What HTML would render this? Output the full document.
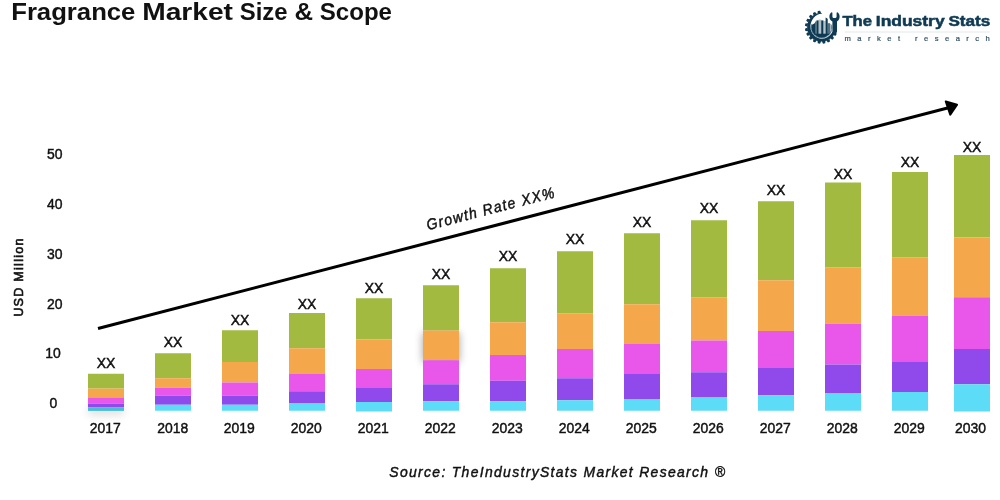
<!DOCTYPE html>
<html lang="en"><head><meta charset="utf-8"><title>Fragrance Market Size &amp; Scope</title>
<style>
html,body{margin:0;padding:0;background:#fff;}
body{width:1000px;height:500px;overflow:hidden;position:relative;font-family:"Liberation Sans",Arial,Helvetica,sans-serif;}
svg{position:absolute;left:0;top:0;display:block;}
text{font-family:"Liberation Sans",Arial,Helvetica,sans-serif;}
</style></head><body>
<svg width="1000" height="500" viewBox="0 0 1000 500">
<defs>
<filter id="sh" x="-60%" y="-60%" width="220%" height="220%"><feGaussianBlur in="SourceAlpha" stdDeviation="4"/><feComponentTransfer><feFuncA type="linear" slope="0.38"/></feComponentTransfer></filter>
<filter id="sh2" x="-60%" y="-300%" width="220%" height="700%"><feGaussianBlur in="SourceAlpha" stdDeviation="4"/><feComponentTransfer><feFuncA type="linear" slope="0.13"/></feComponentTransfer></filter>
<clipPath id="disc"><circle cx="821.7" cy="27.15" r="10.5"/></clipPath>
</defs>

<text id="title" y="20" font-size="24.8" font-weight="700" fill="#111"><tspan x="11.2" textLength="124.2" lengthAdjust="spacingAndGlyphs">Fragrance</tspan> <tspan x="142.2" textLength="90.8" lengthAdjust="spacingAndGlyphs">Market</tspan> <tspan x="239.8" textLength="47.8" lengthAdjust="spacingAndGlyphs">Size</tspan> <tspan x="294.4" textLength="18.6" lengthAdjust="spacingAndGlyphs">&amp;</tspan> <tspan x="319.8" textLength="72.2" lengthAdjust="spacingAndGlyphs">Scope</tspan> </text>
<text transform="translate(54.85,159.20) scale(0.912,1)" font-size="15.3" text-anchor="middle" fill="#111" stroke="#111" stroke-width="0.45" >50</text>
<text transform="translate(54.85,208.98) scale(0.912,1)" font-size="15.3" text-anchor="middle" fill="#111" stroke="#111" stroke-width="0.45" >40</text>
<text transform="translate(54.85,258.76) scale(0.912,1)" font-size="15.3" text-anchor="middle" fill="#111" stroke="#111" stroke-width="0.45" >30</text>
<text transform="translate(54.85,308.54) scale(0.912,1)" font-size="15.3" text-anchor="middle" fill="#111" stroke="#111" stroke-width="0.45" >20</text>
<text transform="translate(53.00,358.32) scale(0.912,1)" font-size="15.3" text-anchor="middle" fill="#111" stroke="#111" stroke-width="0.45" >10</text>
<text transform="translate(53.35,408.10) scale(0.912,1)" font-size="15.3" text-anchor="middle" fill="#111" stroke="#111" stroke-width="0.45" >0</text>
<text id="ylab" transform="translate(22.6,277) rotate(-90)" font-size="12.6" text-anchor="middle" fill="#111" stroke="#111" stroke-width="0.62" letter-spacing="1.25">USD Million</text>
<rect x="423" y="332.5" width="36" height="29.75" fill="#000" filter="url(#sh)"/>
<rect x="88" y="406" width="36" height="9" fill="#000" filter="url(#sh2)"/>
<rect x="88" y="373.75" width="36" height="14.85" fill="#a3ba40"/>
<rect x="88" y="388.6" width="36" height="8.80" fill="#f4a74b"/>
<rect x="88" y="397.4" width="36" height="6.40" fill="#e856ea"/>
<rect x="88" y="403.8" width="36" height="3.60" fill="#9049ea"/>
<rect x="88" y="407.4" width="36" height="3.50" fill="#4abcd3"/>
<text transform="translate(105.95,368.20) scale(0.912,1)" font-size="15.3" text-anchor="middle" fill="#111" stroke="#111" stroke-width="0.45" >XX</text>
<text transform="translate(105.20,432.60) scale(0.912,1)" font-size="15.3" text-anchor="middle" fill="#111" stroke="#111" stroke-width="0.45" >2017</text>
<rect x="155" y="353.25" width="36" height="25.00" fill="#a3ba40"/>
<rect x="155" y="378.25" width="36" height="9.50" fill="#f4a74b"/>
<rect x="155" y="387.75" width="36" height="8.00" fill="#e856ea"/>
<rect x="155" y="395.75" width="36" height="9.00" fill="#9049ea"/>
<rect x="155" y="404.75" width="36" height="6.00" fill="#5ddcf8"/>
<text transform="translate(172.95,347.20) scale(0.912,1)" font-size="15.3" text-anchor="middle" fill="#111" stroke="#111" stroke-width="0.45" >XX</text>
<text transform="translate(172.70,432.60) scale(0.912,1)" font-size="15.3" text-anchor="middle" fill="#111" stroke="#111" stroke-width="0.45" >2018</text>
<rect x="222" y="330.25" width="36" height="31.75" fill="#a3ba40"/>
<rect x="222" y="362" width="36" height="20.50" fill="#f4a74b"/>
<rect x="222" y="382.5" width="36" height="13.25" fill="#e856ea"/>
<rect x="222" y="395.75" width="36" height="9.00" fill="#9049ea"/>
<rect x="222" y="404.75" width="36" height="6.00" fill="#5ddcf8"/>
<text transform="translate(239.95,325.40) scale(0.912,1)" font-size="15.3" text-anchor="middle" fill="#111" stroke="#111" stroke-width="0.45" >XX</text>
<text transform="translate(239.20,432.60) scale(0.912,1)" font-size="15.3" text-anchor="middle" fill="#111" stroke="#111" stroke-width="0.45" >2019</text>
<rect x="289" y="313" width="36" height="35.25" fill="#a3ba40"/>
<rect x="289" y="348.25" width="36" height="25.75" fill="#f4a74b"/>
<rect x="289" y="374" width="36" height="17.25" fill="#e856ea"/>
<rect x="289" y="391.25" width="36" height="11.75" fill="#9049ea"/>
<rect x="289" y="403" width="36" height="7.75" fill="#5ddcf8"/>
<text transform="translate(306.95,309.40) scale(0.912,1)" font-size="15.3" text-anchor="middle" fill="#111" stroke="#111" stroke-width="0.45" >XX</text>
<text transform="translate(306.20,432.60) scale(0.912,1)" font-size="15.3" text-anchor="middle" fill="#111" stroke="#111" stroke-width="0.45" >2020</text>
<rect x="356" y="298.25" width="36" height="41.25" fill="#a3ba40"/>
<rect x="356" y="339.5" width="36" height="29.50" fill="#f4a74b"/>
<rect x="356" y="369" width="36" height="19.00" fill="#e856ea"/>
<rect x="356" y="388" width="36" height="14.00" fill="#9049ea"/>
<rect x="356" y="402" width="36" height="9.50" fill="#5ddcf8"/>
<text transform="translate(373.95,292.80) scale(0.912,1)" font-size="15.3" text-anchor="middle" fill="#111" stroke="#111" stroke-width="0.45" >XX</text>
<text transform="translate(373.20,432.60) scale(0.912,1)" font-size="15.3" text-anchor="middle" fill="#111" stroke="#111" stroke-width="0.45" >2021</text>
<rect x="423" y="285.25" width="36" height="45.25" fill="#a3ba40"/>
<rect x="423" y="330.5" width="36" height="29.75" fill="#f4a74b"/>
<rect x="423" y="360.25" width="36" height="24.00" fill="#e856ea"/>
<rect x="423" y="384.25" width="36" height="17.00" fill="#9049ea"/>
<rect x="423" y="401.25" width="36" height="9.50" fill="#5ddcf8"/>
<text transform="translate(440.95,279.00) scale(0.912,1)" font-size="15.3" text-anchor="middle" fill="#111" stroke="#111" stroke-width="0.45" >XX</text>
<text transform="translate(440.20,432.60) scale(0.912,1)" font-size="15.3" text-anchor="middle" fill="#111" stroke="#111" stroke-width="0.45" >2022</text>
<rect x="490" y="268.25" width="36" height="54.00" fill="#a3ba40"/>
<rect x="490" y="322.25" width="36" height="32.75" fill="#f4a74b"/>
<rect x="490" y="355" width="36" height="25.75" fill="#e856ea"/>
<rect x="490" y="380.75" width="36" height="20.50" fill="#9049ea"/>
<rect x="490" y="401.25" width="36" height="9.50" fill="#5ddcf8"/>
<text transform="translate(507.95,261.05) scale(0.912,1)" font-size="15.3" text-anchor="middle" fill="#111" stroke="#111" stroke-width="0.45" >XX</text>
<text transform="translate(507.20,432.60) scale(0.912,1)" font-size="15.3" text-anchor="middle" fill="#111" stroke="#111" stroke-width="0.45" >2023</text>
<rect x="557" y="251.25" width="36" height="62.00" fill="#a3ba40"/>
<rect x="557" y="313.25" width="36" height="35.75" fill="#f4a74b"/>
<rect x="557" y="349" width="36" height="29.25" fill="#e856ea"/>
<rect x="557" y="378.25" width="36" height="22.00" fill="#9049ea"/>
<rect x="557" y="400.25" width="36" height="10.50" fill="#5ddcf8"/>
<text transform="translate(574.95,244.00) scale(0.912,1)" font-size="15.3" text-anchor="middle" fill="#111" stroke="#111" stroke-width="0.45" >XX</text>
<text transform="translate(574.20,432.60) scale(0.912,1)" font-size="15.3" text-anchor="middle" fill="#111" stroke="#111" stroke-width="0.45" >2024</text>
<rect x="624" y="233.25" width="36" height="71.00" fill="#a3ba40"/>
<rect x="624" y="304.25" width="36" height="39.75" fill="#f4a74b"/>
<rect x="624" y="344" width="36" height="30.00" fill="#e856ea"/>
<rect x="624" y="374" width="36" height="25.00" fill="#9049ea"/>
<rect x="624" y="399" width="36" height="11.75" fill="#5ddcf8"/>
<text transform="translate(641.95,226.80) scale(0.912,1)" font-size="15.3" text-anchor="middle" fill="#111" stroke="#111" stroke-width="0.45" >XX</text>
<text transform="translate(641.20,432.60) scale(0.912,1)" font-size="15.3" text-anchor="middle" fill="#111" stroke="#111" stroke-width="0.45" >2025</text>
<rect x="691" y="220.25" width="36" height="77.00" fill="#a3ba40"/>
<rect x="691" y="297.25" width="36" height="43.25" fill="#f4a74b"/>
<rect x="691" y="340.5" width="36" height="31.75" fill="#e856ea"/>
<rect x="691" y="372.25" width="36" height="24.75" fill="#9049ea"/>
<rect x="691" y="397" width="36" height="13.75" fill="#5ddcf8"/>
<text transform="translate(708.95,213.00) scale(0.912,1)" font-size="15.3" text-anchor="middle" fill="#111" stroke="#111" stroke-width="0.45" >XX</text>
<text transform="translate(708.20,432.60) scale(0.912,1)" font-size="15.3" text-anchor="middle" fill="#111" stroke="#111" stroke-width="0.45" >2026</text>
<rect x="758" y="201.25" width="36" height="79.00" fill="#a3ba40"/>
<rect x="758" y="280.25" width="36" height="50.75" fill="#f4a74b"/>
<rect x="758" y="331" width="36" height="37.00" fill="#e856ea"/>
<rect x="758" y="368" width="36" height="27.25" fill="#9049ea"/>
<rect x="758" y="395.25" width="36" height="15.50" fill="#5ddcf8"/>
<text transform="translate(775.95,195.00) scale(0.912,1)" font-size="15.3" text-anchor="middle" fill="#111" stroke="#111" stroke-width="0.45" >XX</text>
<text transform="translate(775.20,432.60) scale(0.912,1)" font-size="15.3" text-anchor="middle" fill="#111" stroke="#111" stroke-width="0.45" >2027</text>
<rect x="825" y="182.5" width="36" height="84.75" fill="#a3ba40"/>
<rect x="825" y="267.25" width="36" height="56.50" fill="#f4a74b"/>
<rect x="825" y="323.75" width="36" height="40.75" fill="#e856ea"/>
<rect x="825" y="364.5" width="36" height="28.50" fill="#9049ea"/>
<rect x="825" y="393" width="36" height="17.75" fill="#5ddcf8"/>
<text transform="translate(842.95,179.00) scale(0.912,1)" font-size="15.3" text-anchor="middle" fill="#111" stroke="#111" stroke-width="0.45" >XX</text>
<text transform="translate(842.20,432.60) scale(0.912,1)" font-size="15.3" text-anchor="middle" fill="#111" stroke="#111" stroke-width="0.45" >2028</text>
<rect x="892" y="172" width="36" height="85.25" fill="#a3ba40"/>
<rect x="892" y="257.25" width="36" height="58.25" fill="#f4a74b"/>
<rect x="892" y="315.5" width="36" height="46.50" fill="#e856ea"/>
<rect x="892" y="362" width="36" height="30.00" fill="#9049ea"/>
<rect x="892" y="392" width="36" height="18.75" fill="#5ddcf8"/>
<text transform="translate(909.95,166.60) scale(0.912,1)" font-size="15.3" text-anchor="middle" fill="#111" stroke="#111" stroke-width="0.45" >XX</text>
<text transform="translate(909.20,432.60) scale(0.912,1)" font-size="15.3" text-anchor="middle" fill="#111" stroke="#111" stroke-width="0.45" >2029</text>
<rect x="954" y="155" width="36" height="82.50" fill="#a3ba40"/>
<rect x="954" y="237.5" width="36" height="59.75" fill="#f4a74b"/>
<rect x="954" y="297.25" width="36" height="51.75" fill="#e856ea"/>
<rect x="954" y="349" width="36" height="35.25" fill="#9049ea"/>
<rect x="954" y="384.25" width="36" height="27.25" fill="#5ddcf8"/>
<text transform="translate(971.95,152.20) scale(0.912,1)" font-size="15.3" text-anchor="middle" fill="#111" stroke="#111" stroke-width="0.45" >XX</text>
<text transform="translate(970.40,432.60) scale(0.912,1)" font-size="15.3" text-anchor="middle" fill="#111" stroke="#111" stroke-width="0.45" >2030</text>
<line x1="98" y1="328.5" x2="948.50" y2="107.80" stroke="#000" stroke-width="3"/>
<polygon points="945.75,101.4 957.05,104.8 950.25,114.7" fill="#000" stroke="#000" stroke-width="2" stroke-linejoin="round"/>
<text id="growth" transform="translate(492.2,213.6) rotate(-14.55) scale(0.912,1)" font-size="15.3" font-style="italic" text-anchor="middle" fill="#111" stroke="#111" stroke-width="0.45" letter-spacing="1.43">Growth Rate XX%</text>
<text id="source" transform="translate(389.3,476.6) scale(0.912,1)" font-size="15.3" font-style="italic" fill="#111" stroke="#111" stroke-width="0.45" letter-spacing="1.45">Source: TheIndustryStats Market Research ®</text>
<g id="logo">
<text id="logot" y="26.25" font-size="15.5" font-weight="700" fill="#0e3a53" stroke="#0e3a53" stroke-width="0.55"><tspan x="842.4" textLength="29.6" lengthAdjust="spacingAndGlyphs">The</tspan> <tspan x="875.8" textLength="68.8" lengthAdjust="spacingAndGlyphs">Industry</tspan> <tspan x="948.4" textLength="41.8" lengthAdjust="spacingAndGlyphs">Stats</tspan> </text>
<rect x="844.8" y="31.5" width="145" height="1" fill="#e4e9ec"/>
<text id="logos" x="844.6" y="41.1" font-size="7.6" fill="#2f5066" stroke="#2f5066" stroke-width="0.2" letter-spacing="6.45">market research</text>
<path d="M834.56,33.02 L834.35,33.47 L834.13,33.91 L833.88,34.35 L833.63,34.78 L833.36,35.20 L833.07,35.61 L832.77,36.00 L832.45,36.39 L832.13,36.77 L831.79,37.13 L831.43,37.49 L831.07,37.83 L830.69,38.15 L830.30,38.47 L829.91,38.77 L829.50,39.06 L829.08,39.33 L828.65,39.58 L828.21,39.83 L827.77,40.05 L827.32,40.26 L826.86,40.46 L826.39,40.64 L825.92,40.80 L825.44,40.95 L824.96,41.08 L824.47,41.19 L823.98,41.28 L823.49,41.36 L822.99,41.42 L822.50,41.47 L822.00,41.49 L821.50,41.50 L821.00,41.49 L820.50,41.47 L820.01,41.42 L819.51,41.36 L819.02,41.28 L818.53,41.19 L818.04,41.08 L817.56,40.95 L817.08,40.80 L816.61,40.64 L816.14,40.46 L815.68,40.26 L815.23,40.05 L814.79,39.83 L814.35,39.58 L813.92,39.33 L813.50,39.06 L813.09,38.77 L812.70,38.47 L812.31,38.15 L811.93,37.83 L811.57,37.49 L811.21,37.13 L810.87,36.77 L810.55,36.39 L810.23,36.00 L809.93,35.61 L809.64,35.20 L809.37,34.78 L809.12,34.35 L808.87,33.91 L808.65,33.47 L808.44,33.02 L808.24,32.56 L808.06,32.09 L807.90,31.62 L807.75,31.14 L807.62,30.66 L807.51,30.17 L807.42,29.68 L807.34,29.19 L807.28,28.69 L807.23,28.20 L807.21,27.70 L807.20,27.20 L807.21,26.70 L807.23,26.20 L807.28,25.71 L807.34,25.21 L807.42,24.72 L807.51,24.23 L807.62,23.74 L807.75,23.26 L807.90,22.78 L808.06,22.31 L808.24,21.84 L808.44,21.38 L808.65,20.93 L808.87,20.49 L809.12,20.05 L809.37,19.62 L809.64,19.20 L809.93,18.79 L810.23,18.40 L810.55,18.01 L810.87,17.63 L811.21,17.27 L811.57,16.91 L811.93,16.57 L812.31,16.25 L812.70,15.93 L813.09,15.63 L813.50,15.34 L813.92,15.07 L814.35,14.82 L814.79,14.57 L815.23,14.35 L815.68,14.14 L816.14,13.94 L816.61,13.76 L817.08,13.60 L817.56,13.45 L818.04,13.32 L818.53,13.21 L819.02,13.12 L819.51,13.04 L820.01,12.98 L820.50,12.93 L821.00,12.91 L821.50,12.90 L822.00,12.91 L821.98,13.51 L821.50,13.57 L821.03,13.64 L820.56,13.73 L820.10,13.84 L819.64,13.96 L819.19,14.10 L818.75,14.26 L818.31,14.42 L817.89,14.61 L817.47,14.80 L817.07,15.02 L816.67,15.24 L816.28,15.48 L815.91,15.73 L815.55,16.00 L815.20,16.29 L814.87,16.58 L814.54,16.89 L814.23,17.20 L813.94,17.52 L813.66,17.85 L813.39,18.19 L813.14,18.54 L812.90,18.89 L812.67,19.25 L812.46,19.62 L812.26,19.98 L812.08,20.36 L811.90,20.72 L811.71,21.08 L811.53,21.44 L811.36,21.81 L811.21,22.18 L811.08,22.56 L810.95,22.94 L810.84,23.32 L810.74,23.71 L810.66,24.09 L810.59,24.48 L810.54,24.87 L810.50,25.26 L810.47,25.65 L810.46,26.04 L810.46,26.43 L810.47,26.81 L810.50,27.20 L810.51,27.58 L810.53,27.97 L810.56,28.35 L810.61,28.73 L810.67,29.11 L810.74,29.49 L810.83,29.86 L810.93,30.23 L811.04,30.60 L811.16,30.96 L811.30,31.32 L811.45,31.67 L811.61,32.02 L811.79,32.36 L811.97,32.70 L812.17,33.03 L812.38,33.35 L812.60,33.67 L812.83,33.97 L813.07,34.27 L813.33,34.56 L813.59,34.84 L813.85,35.12 L814.12,35.40 L814.39,35.67 L814.68,35.93 L814.98,36.18 L815.28,36.42 L815.59,36.65 L815.92,36.87 L816.25,37.08 L816.59,37.28 L816.93,37.46 L817.28,37.64 L817.64,37.80 L818.01,37.95 L818.38,38.08 L818.76,38.21 L819.14,38.32 L819.52,38.42 L819.91,38.50 L820.30,38.57 L820.70,38.63 L821.10,38.67 L821.50,38.70 L821.90,38.70 L822.30,38.68 L822.70,38.65 L823.10,38.61 L823.50,38.55 L823.90,38.48 L824.29,38.40 L824.68,38.30 L825.07,38.19 L825.45,38.06 L825.83,37.92 L826.21,37.77 L826.57,37.60 L826.94,37.42 L827.29,37.23 L827.64,37.03 L827.99,36.81 L828.32,36.59 L828.65,36.35 L828.97,36.10 L829.28,35.84 L829.58,35.56 L829.87,35.28 L830.15,34.99 L830.42,34.68 L830.68,34.37 L830.93,34.05 L831.17,33.72 L831.39,33.38 L831.61,33.04 L831.81,32.68 L832.00,32.32 L832.18,31.95 Z" fill="#0e3a53"/>
<polygon points="834.71,31.85 836.78,33.69 835.73,35.75 833.02,35.15" fill="#0e3a53"/>
<polygon points="832.62,35.70 834.03,38.09 832.39,39.73 830.00,38.32" fill="#0e3a53"/>
<polygon points="829.45,38.72 830.05,41.43 827.99,42.48 826.15,40.41" fill="#0e3a53"/>
<polygon points="825.50,40.62 825.23,43.37 822.95,43.74 821.84,41.20" fill="#0e3a53"/>
<polygon points="821.16,41.20 820.05,43.74 817.77,43.37 817.50,40.62" fill="#0e3a53"/>
<polygon points="816.85,40.41 815.01,42.48 812.95,41.43 813.55,38.72" fill="#0e3a53"/>
<polygon points="813.00,38.32 810.61,39.73 808.97,38.09 810.38,35.70" fill="#0e3a53"/>
<polygon points="809.98,35.15 807.27,35.75 806.22,33.69 808.29,31.85" fill="#0e3a53"/>
<polygon points="808.08,31.20 805.33,30.93 804.96,28.65 807.50,27.54" fill="#0e3a53"/>
<polygon points="807.50,26.86 804.96,25.75 805.33,23.47 808.08,23.20" fill="#0e3a53"/>
<polygon points="808.29,22.55 806.22,20.71 807.27,18.65 809.98,19.25" fill="#0e3a53"/>
<polygon points="810.38,18.70 808.97,16.31 810.61,14.67 813.00,16.08" fill="#0e3a53"/>
<polygon points="813.55,15.68 812.95,12.97 815.01,11.92 816.85,13.99" fill="#0e3a53"/>
<polygon points="817.50,13.78 817.77,11.03 820.05,10.66 821.16,13.20" fill="#0e3a53"/>
<path d="M831.47,30.71 A10.4,10.4 0 1 1 811.81,23.94" fill="none" stroke="#0e3a53" stroke-width="0.6"/>
<g clip-path="url(#disc)">
<rect x="808" y="33.7" width="28" height="6" fill="#0e3a53"/>
<rect x="816.4" y="20.4" width="2.2" height="13.80" fill="#0e3a53" opacity="1"/>
<rect x="821.2" y="20.4" width="2.2" height="13.80" fill="#0e3a53" opacity="1"/>
<rect x="825.6" y="17.3" width="2.1" height="16.90" fill="#0e3a53" opacity="1"/>
<rect x="815.0" y="21.6" width="1.4" height="12.60" fill="#0e3a53" opacity="0.75"/>
<rect x="827.6" y="23.2" width="2.5" height="11.00" fill="#0e3a53" opacity="0.72"/>
<rect x="831.3" y="24.6" width="1.6" height="9.60" fill="#0e3a53" opacity="0.8"/>
<rect x="818.6" y="19.6" width="2.6" height="14.60" fill="#0e3a53" opacity="0.33"/>
<rect x="823.4" y="21.0" width="2.3" height="13.20" fill="#0e3a53" opacity="0.3"/>
<rect x="830.1" y="24.0" width="1.2" height="10.20" fill="#0e3a53" opacity="0.35"/>
<polygon points="811.3,25.3 815.0,23.1 815.0,34.2 811.3,34.2" fill="#0e3a53"/>
</g>
<path d="M832.4,35.6 L832.4,21.4 C830.2,20.4 829.2,18.2 829.4,15.9 C829.6,14.2 830.5,12.9 831.7,12.3 L832.4,12.7 L832.4,16.4 C832.4,17.5 833.3,18.1 834.5,18.1 C835.7,18.1 836.6,17.5 836.6,16.4 L836.6,12.7 L837.3,12.3 C838.5,12.9 839.4,14.2 839.6,15.9 C839.8,18.2 838.8,20.4 837.0,21.4 L837.0,31.8 C836.4,33.6 834.8,35.0 832.4,35.6 Z" fill="#0e3a53"/>
</g>
</svg></body></html>
